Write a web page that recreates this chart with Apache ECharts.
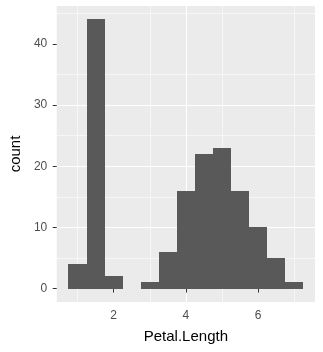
<!DOCTYPE html>
<html>
<head>
<meta charset="utf-8">
<script src="https://cdn.jsdelivr.net/npm/echarts@6/dist/echarts.min.js"></script>
<style>
html,body{margin:0;padding:0;background:#fff;}
#c{width:323px;height:352px;}
</style>
</head>
<body>
<div id="c"></div>
<script>
// Histogram of Petal.Length (binwidth 0.5)
const binStarts = [0.75, 1.25, 1.75, 2.25, 2.75, 3.25, 3.75, 4.25, 4.75, 5.25, 5.75, 6.25, 6.75];
const binEnds   = [1.25, 1.75, 2.25, 2.75, 3.25, 3.75, 4.25, 4.75, 5.25, 5.75, 6.25, 6.75, 7.25];
const counts    = [4, 44, 2, 0, 1, 6, 16, 22, 23, 16, 10, 5, 1];
const xTicks = [2, 4, 6];
const yTicks = [0, 10, 20, 30, 40];

const data = binStarts.map((s, i) => [s, binEnds[i], counts[i]]);
const FONT = 'Liberation Sans, Arial, sans-serif';

const chart = echarts.init(document.getElementById('c'), null, {renderer: 'canvas'});
chart.setOption({
  animation: false,
  backgroundColor: '#ffffff',
  grid: {left: 49, right: 8, top: 6, bottom: 50, show: true, backgroundColor: '#EBEBEB', borderWidth: 0},
  xAxis: {
    type: 'value', min: 0.425, max: 7.575, splitNumber: 4,
    name: 'Petal.Length', nameLocation: 'middle', nameGap: 27,
    nameTextStyle: {fontFamily: FONT, fontSize: 15, color: '#000'},
    axisLine: {show: false},
    axisTick: {show: true, length: 4, lineStyle: {color: '#333333', width: 1}, customValues: xTicks},
    axisLabel: {fontFamily: FONT, fontSize: 12, color: '#4D4D4D', margin: 8, customValues: xTicks},
    splitLine: {show: true, showMinLine: false, showMaxLine: false, lineStyle: {color: '#ffffff', width: 1.1}},
    minorTick: {show: false, splitNumber: 2},
    minorSplitLine: {show: true, lineStyle: {color: '#ffffff', width: 0.55}}
  },
  yAxis: {
    type: 'value', min: -2.2, max: 46.2, splitNumber: 5,
    name: 'count', nameLocation: 'middle', nameGap: 26,
    nameTextStyle: {fontFamily: FONT, fontSize: 15, color: '#000'},
    axisLine: {show: false},
    axisTick: {show: true, length: 4, lineStyle: {color: '#333333', width: 1}, customValues: yTicks},
    axisLabel: {fontFamily: FONT, fontSize: 12, color: '#4D4D4D', margin: 9.5, customValues: yTicks},
    splitLine: {show: true, showMinLine: false, showMaxLine: false, lineStyle: {color: '#ffffff', width: 1.1}},
    minorTick: {show: false, splitNumber: 2},
    minorSplitLine: {show: true, lineStyle: {color: '#ffffff', width: 0.55}}
  },
  series: [{
    type: 'custom',
    data: data,
    encode: {x: [0, 1], y: 2},
    renderItem: function (params, api) {
      if (api.value(2) <= 0) return null;
      const p0 = api.coord([api.value(0), 0]);
      const p1 = api.coord([api.value(1), api.value(2)]);
      const x0 = Math.round(p0[0]), x1 = Math.round(p1[0]);
      const y0 = Math.round(p0[1]), y1 = Math.round(p1[1]);
      return {
        type: 'rect',
        shape: {x: x0, y: y1, width: x1 - x0, height: y0 - y1},
        style: {fill: '#595959'}
      };
    }
  }]
});
</script>
</body>
</html>
